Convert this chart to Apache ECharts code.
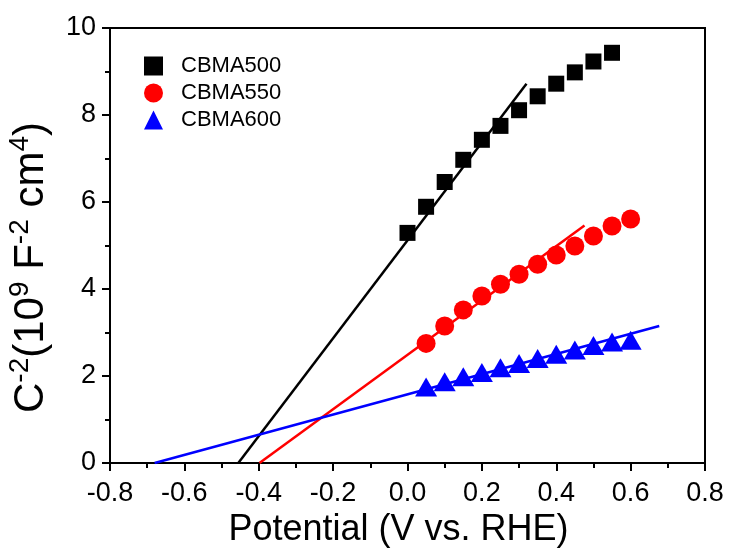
<!DOCTYPE html>
<html>
<head>
<meta charset="utf-8">
<script src="https://cdn.jsdelivr.net/npm/echarts@6/dist/echarts.min.js"></script>
<style>html,body{margin:0;padding:0;background:#fff}#c{width:735px;height:548px}</style>
</head>
<body>
<div id="c"></div>
<script>
// Data
const seriesNames = ['CBMA500', 'CBMA550', 'CBMA600'];
const x500 = [0.00, 0.05, 0.10, 0.15, 0.20, 0.25, 0.30, 0.35, 0.40, 0.45, 0.50, 0.55];
const y500 = [5.29, 5.89, 6.46, 6.97, 7.43, 7.75, 8.11, 8.43, 8.72, 8.98, 9.23, 9.43];
const x550 = [0.05, 0.10, 0.15, 0.20, 0.25, 0.30, 0.35, 0.40, 0.45, 0.50, 0.55, 0.60];
const y550 = [2.75, 3.15, 3.52, 3.84, 4.11, 4.34, 4.57, 4.78, 4.99, 5.22, 5.45, 5.61];
const x600 = [0.05, 0.10, 0.15, 0.20, 0.25, 0.30, 0.35, 0.40, 0.45, 0.50, 0.55, 0.60];
const y600 = [1.75, 1.87, 1.98, 2.08, 2.19, 2.29, 2.40, 2.50, 2.60, 2.70, 2.78, 2.82];
// Linear fit lines (endpoints)
const fit500 = [[-0.455, 0], [0.32, 8.72]];
const fit550 = [[-0.398, 0], [0.476, 5.46]];
const fit600 = [[-0.680, 0], [0.677, 3.15]];
const xTicks = [-0.8, -0.6, -0.4, -0.2, 0.0, 0.2, 0.4, 0.6, 0.8];
const yTicks = [0, 2, 4, 6, 8, 10];

const colors = ['#000000', '#ff0000', '#0000ff'];
const symbols = ['rect', 'circle', 'triangle'];
const symSizes = [16, 19, [22, 19]];
const zip = (xs, ys) => xs.map((x, i) => [x, ys[i]]);
const pts = [zip(x500, y500), zip(x550, y550), zip(x600, y600)];
const fits = [fit500, fit550, fit600];

const FONT = 'Liberation Sans, Arial, sans-serif';
const chart = echarts.init(document.getElementById('c'), null, {renderer: 'canvas'});

const series = [];
fits.forEach((f, i) => {
  series.push({
    type: 'line', data: f, showSymbol: false, symbol: 'none', silent: true,
    lineStyle: {color: colors[i], width: 2.5}, z: 2, animation: false
  });
});
pts.forEach((p, i) => {
  series.push({
    name: seriesNames[i], type: 'scatter', data: p, symbol: symbols[i],
    symbolSize: symSizes[i], itemStyle: {color: colors[i], opacity: 1}, z: 3, animation: false
  });
});

chart.setOption({
  animation: false,
  backgroundColor: '#fff',
  grid: {left: 110, right: 30, top: 28, bottom: 85, containLabel: false, outerBoundsMode: 'none',
    show: true, borderColor: '#000', borderWidth: 2, backgroundColor: 'transparent'},
  legend: {
    orient: 'vertical', left: 139, top: 50, itemWidth: 19, itemHeight: 19, itemGap: 5,
    data: seriesNames,
    textStyle: {fontFamily: FONT, fontSize: 22, color: '#000', padding: [0, 0, 0, 13]}
  },
  xAxis: {
    type: 'value', min: xTicks[0], max: xTicks[xTicks.length - 1], interval: 0.2,
    name: 'Potential (V vs. RHE)', nameLocation: 'middle', nameGap: 45,
    nameTextStyle: {fontFamily: FONT, fontSize: 36, color: '#000', padding: [0, 18, 0, 0]},
    axisLine: {onZero: false, lineStyle: {color: '#000', width: 2}},
    axisTick: {inside: false, length: 8, lineStyle: {color: '#000', width: 2}},
    minorTick: {show: true, splitNumber: 2, length: 5, lineStyle: {color: '#000', width: 2}},
    splitLine: {show: false},
    axisLabel: {fontFamily: FONT, fontSize: 27, color: '#000', margin: 17,
      formatter: v => (Math.abs(v) < 1e-9 ? 0 : v).toFixed(1)}
  },
  yAxis: {
    type: 'value', min: yTicks[0], max: yTicks[yTicks.length - 1], interval: 2,
    name: '{a|C}{s|-2}{a|(10}{s|9}{a| F}{s|-2}{a| cm}{s|4}{a|)}',
    nameLocation: 'middle', nameGap: 58, nameRotate: 90,
    nameTextStyle: {
      fontFamily: FONT, fontSize: 42, color: '#000', padding: [0, 44, 0, 0],
      rich: {
        a: {fontFamily: FONT, fontSize: 42, color: '#000', lineHeight: 46, verticalAlign: 'bottom'},
        s: {fontFamily: FONT, fontSize: 28, color: '#000', lineHeight: 46, verticalAlign: 'top'}
      }
    },
    axisLine: {onZero: false, lineStyle: {color: '#000', width: 2}},
    axisTick: {inside: false, length: 8, lineStyle: {color: '#000', width: 2}},
    minorTick: {show: true, splitNumber: 2, length: 5, lineStyle: {color: '#000', width: 2}},
    splitLine: {show: false},
    axisLabel: {fontFamily: FONT, fontSize: 27, color: '#000', margin: 14}
  },
  series: series
});
</script>
</body>
</html>
